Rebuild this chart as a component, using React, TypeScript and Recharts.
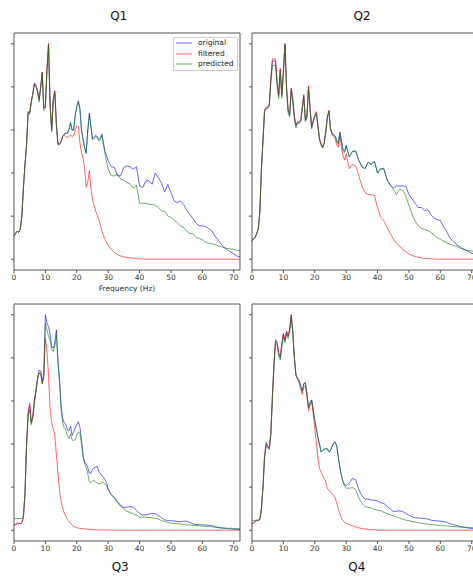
import { Legend, Line, LineChart, ReferenceArea, XAxis, YAxis } from "recharts";

// frequency grid: 0.5 Hz steps up to 30 Hz, then 1 Hz steps
const freqHz = [
  0, 0.5, 1, 1.5, 2, 2.5, 3, 3.5, 4, 4.5, 5, 5.5, 6, 6.5, 7, 7.5, 8, 8.5, 9, 9.5,
  10, 10.5, 11, 11.5, 12, 12.5, 13, 13.5, 14, 14.5, 15, 15.5, 16, 16.5, 17, 17.5,
  18, 18.5, 19, 19.5, 20, 20.5, 21, 21.5, 22, 22.5, 23, 23.5, 24, 24.5, 25, 25.5,
  26, 26.5, 27, 27.5, 28, 28.5, 29, 29.5, 30,
  31, 32, 33, 34, 35, 36, 37, 38, 39, 40, 41, 42, 43, 44, 45, 46, 47, 48, 49, 50,
  51, 52, 53, 54, 55, 56, 57, 58, 59, 60, 61, 62, 63, 64, 65, 66, 67, 68, 69, 70,
  71, 72,
];

const xTicks = [0, 10, 20, 30, 40, 50, 60, 70];
const yTicks = [0, 0.2, 0.4, 0.6, 0.8, 1];
const seriesNames = ["original", "filtered", "predicted"];

const q1Original = [
  0.108, 0.12, 0.13, 0.125, 0.14, 0.2, 0.33, 0.44, 0.53, 0.684,
  0.678, 0.73, 0.77, 0.816, 0.805, 0.78, 0.74, 0.8, 0.867, 0.7,
  0.71, 0.88, 1.0, 0.72, 0.6, 0.74, 0.78, 0.63, 0.534, 0.534,
  0.545, 0.57, 0.58, 0.585, 0.585, 0.6, 0.635, 0.6, 0.6, 0.67,
  0.71, 0.735, 0.7, 0.6, 0.56, 0.52, 0.495, 0.6, 0.678, 0.62,
  0.56, 0.565, 0.575, 0.57, 0.555, 0.56, 0.58, 0.54, 0.5, 0.48,
  0.457,
  0.43, 0.426, 0.387, 0.387, 0.426, 0.433, 0.43, 0.418, 0.43, 0.34,
  0.333, 0.364, 0.364, 0.348, 0.4, 0.379, 0.353, 0.313, 0.348, 0.31,
  0.271, 0.263, 0.271, 0.255, 0.229, 0.209, 0.189, 0.167, 0.155, 0.155,
  0.152, 0.142, 0.132, 0.108, 0.09, 0.07, 0.054, 0.043, 0.034, 0.025,
  0.015, 0.01,
];
const q1Filtered = [
  0.108, 0.12, 0.13, 0.125, 0.14, 0.2, 0.33, 0.44, 0.53, 0.686,
  0.68, 0.732, 0.772, 0.818, 0.807, 0.782, 0.742, 0.802, 0.869, 0.702,
  0.712, 0.882, 1.0, 0.722, 0.602, 0.742, 0.782, 0.632, 0.536, 0.536,
  0.545, 0.57, 0.576, 0.57, 0.565, 0.57, 0.576, 0.57, 0.573, 0.6,
  0.62, 0.615, 0.54, 0.495, 0.47, 0.42, 0.335, 0.36, 0.41, 0.33,
  0.28, 0.25, 0.225, 0.205, 0.185, 0.16, 0.132, 0.11, 0.093, 0.078,
  0.065,
  0.046, 0.031, 0.022, 0.015, 0.011, 0.008, 0.006, 0.005, 0.003, 0.002,
  0.001, 0, 0, 0, 0, 0, 0, 0, 0, 0,
  0, 0, 0, 0, 0, 0, 0, 0, 0, 0,
  0, 0, 0, 0, 0, 0, 0, 0, 0, 0,
  0, 0,
];
const q1Predicted = [
  0.108, 0.12, 0.13, 0.125, 0.14, 0.2, 0.33, 0.44, 0.525, 0.678,
  0.672, 0.725, 0.765, 0.81, 0.8, 0.775, 0.73, 0.795, 0.86, 0.69,
  0.7, 0.875, 0.99, 0.71, 0.59, 0.73, 0.77, 0.62, 0.53, 0.532,
  0.545, 0.57, 0.58, 0.585, 0.585, 0.6, 0.632, 0.6, 0.598, 0.665,
  0.705, 0.73, 0.695, 0.6, 0.555, 0.515, 0.49, 0.595, 0.672, 0.615,
  0.555, 0.56, 0.57, 0.565, 0.55, 0.555, 0.575, 0.53, 0.49, 0.45,
  0.42,
  0.387, 0.387, 0.395, 0.372, 0.368, 0.355, 0.35, 0.33, 0.345, 0.26,
  0.26, 0.26, 0.255, 0.255, 0.25, 0.24, 0.225, 0.222, 0.2, 0.195,
  0.18, 0.17, 0.155, 0.148, 0.13, 0.12, 0.118, 0.1, 0.097, 0.09,
  0.08, 0.075, 0.072, 0.068, 0.062, 0.058, 0.053, 0.05, 0.048, 0.045,
  0.042, 0.04,
];

const q2Original = [
  0.085, 0.095, 0.1, 0.12, 0.14, 0.22, 0.42, 0.55, 0.69, 0.7,
  0.705, 0.715, 0.83, 0.92, 0.92, 0.92, 0.82, 0.76, 0.88, 0.76,
  0.87, 1.0, 0.8, 0.69, 0.67, 0.79, 0.74, 0.66, 0.62, 0.635,
  0.635, 0.64, 0.7, 0.76, 0.645, 0.66, 0.8, 0.7, 0.61, 0.64,
  0.665, 0.68, 0.62, 0.557, 0.535, 0.52, 0.54, 0.59, 0.66, 0.69,
  0.61, 0.585, 0.58, 0.573, 0.55, 0.54, 0.59, 0.55, 0.51, 0.5,
  0.53,
  0.475, 0.5, 0.503, 0.46, 0.43, 0.42, 0.45, 0.44, 0.455, 0.4,
  0.42, 0.42, 0.37, 0.345, 0.33, 0.34, 0.34, 0.34, 0.34, 0.3,
  0.28, 0.26, 0.24, 0.24, 0.226, 0.23, 0.205, 0.19, 0.184, 0.18,
  0.15, 0.13, 0.1, 0.085, 0.07, 0.06, 0.05, 0.043, 0.035, 0.028,
  0.022, 0.018,
];
const q2Filtered = [
  0.085, 0.095, 0.1, 0.12, 0.14, 0.22, 0.42, 0.555, 0.695, 0.705,
  0.71, 0.72, 0.84, 0.93, 0.93, 0.93, 0.825, 0.765, 0.885, 0.765,
  0.875, 1.0, 0.805, 0.695, 0.675, 0.795, 0.745, 0.665, 0.625, 0.64,
  0.64, 0.645, 0.705, 0.765, 0.65, 0.665, 0.805, 0.705, 0.615, 0.645,
  0.67, 0.685, 0.625, 0.56, 0.538, 0.522, 0.542, 0.59, 0.66, 0.69,
  0.605, 0.58, 0.57, 0.56, 0.53, 0.52, 0.57, 0.52, 0.48, 0.46,
  0.49,
  0.42, 0.44, 0.433, 0.39, 0.34, 0.31, 0.3, 0.3, 0.295, 0.24,
  0.195, 0.178, 0.15, 0.12, 0.095, 0.075, 0.06, 0.045, 0.035, 0.025,
  0.018, 0.012, 0.009, 0.006, 0.004, 0.003, 0.002, 0.001, 0, 0,
  0, 0, 0, 0, 0, 0, 0, 0, 0, 0,
  0, 0,
];
const q2Predicted = [
  0.085, 0.095, 0.1, 0.12, 0.14, 0.22, 0.42, 0.545, 0.685, 0.695,
  0.7, 0.71, 0.82, 0.9, 0.9, 0.9, 0.8, 0.745, 0.87, 0.75,
  0.86, 0.99, 0.79, 0.68, 0.66, 0.78, 0.73, 0.65, 0.61, 0.63,
  0.63, 0.635, 0.695, 0.75, 0.64, 0.655, 0.79, 0.695, 0.605, 0.635,
  0.66, 0.675, 0.615, 0.553, 0.53, 0.515, 0.535, 0.585, 0.655, 0.685,
  0.605, 0.58, 0.575, 0.57, 0.545, 0.535, 0.585, 0.545, 0.505, 0.495,
  0.525,
  0.475, 0.5, 0.503, 0.46, 0.43, 0.42, 0.45, 0.44, 0.455, 0.4,
  0.42, 0.42, 0.37, 0.345, 0.325, 0.3, 0.325, 0.32, 0.295, 0.25,
  0.21, 0.175, 0.155, 0.143, 0.137, 0.133, 0.126, 0.113, 0.1, 0.093,
  0.084, 0.077, 0.07, 0.065, 0.06, 0.054, 0.048, 0.043, 0.04, 0.038,
  0.036, 0.035,
];

const q3Original = [
  0.023, 0.028, 0.034, 0.031, 0.031, 0.035, 0.06, 0.17, 0.4, 0.54,
  0.58, 0.5, 0.53, 0.604, 0.65, 0.71, 0.743, 0.74, 0.69, 0.73,
  1.0, 0.96, 0.945, 0.91, 0.855, 0.845, 0.87, 0.93, 0.79, 0.7,
  0.58, 0.52, 0.5, 0.49, 0.465, 0.46, 0.483, 0.44, 0.455, 0.475,
  0.49, 0.503, 0.48, 0.42, 0.35, 0.315, 0.31, 0.29, 0.265, 0.265,
  0.282, 0.29, 0.293, 0.297, 0.275, 0.262, 0.252, 0.247, 0.235, 0.222,
  0.19,
  0.165, 0.152, 0.133, 0.115, 0.105, 0.107, 0.11, 0.108, 0.092, 0.078,
  0.07, 0.072, 0.075, 0.077, 0.077, 0.068, 0.058, 0.048, 0.045, 0.044,
  0.043, 0.041, 0.04, 0.042, 0.042, 0.036, 0.03, 0.026, 0.025, 0.025,
  0.024, 0.023, 0.021, 0.017, 0.013, 0.011, 0.009, 0.008, 0.006, 0.005,
  0.004, 0.003,
];
const q3Filtered = [
  0.023, 0.025, 0.03, 0.031, 0.031, 0.035, 0.06, 0.17, 0.4, 0.55,
  0.59, 0.5, 0.53, 0.6, 0.65, 0.7, 0.73, 0.73, 0.68, 0.72,
  0.89, 0.83, 0.72, 0.56, 0.5, 0.47, 0.44, 0.35, 0.27, 0.186,
  0.135, 0.105, 0.08, 0.065, 0.05, 0.04, 0.032, 0.025, 0.019, 0.015,
  0.012, 0.01, 0.009, 0.008, 0.007, 0.006, 0.005, 0.005, 0.004, 0.004,
  0.003, 0.003, 0.002, 0.002, 0.002, 0.001, 0.001, 0.001, 0.001, 0.001,
  0.001,
  0, 0, 0, 0, 0, 0, 0, 0, 0, 0,
  0, 0, 0, 0, 0, 0, 0, 0, 0, 0,
  0, 0, 0, 0, 0, 0, 0, 0, 0, 0,
  0, 0, 0, 0, 0, 0, 0, 0, 0, 0,
  0, 0,
];
const q3Predicted = [
  0.054, 0.054, 0.054, 0.054, 0.054, 0.054, 0.07, 0.17, 0.39, 0.53,
  0.56, 0.49, 0.52, 0.59, 0.64, 0.7, 0.73, 0.725, 0.68, 0.715,
  0.96, 0.93, 0.9, 0.88, 0.84, 0.83, 0.855, 0.91, 0.78, 0.69,
  0.56, 0.5, 0.475, 0.465, 0.435, 0.425, 0.445, 0.42, 0.417, 0.42,
  0.44, 0.457, 0.45, 0.4, 0.34, 0.31, 0.29, 0.265, 0.225, 0.22,
  0.228, 0.23, 0.225, 0.218, 0.215, 0.216, 0.222, 0.224, 0.215, 0.208,
  0.19,
  0.165, 0.148, 0.128, 0.11, 0.098, 0.088, 0.082, 0.076, 0.07, 0.062,
  0.061, 0.06, 0.059, 0.058, 0.055, 0.052, 0.045, 0.04, 0.036, 0.033,
  0.031, 0.03, 0.029, 0.027, 0.025, 0.024, 0.023, 0.022, 0.021, 0.019,
  0.018, 0.017, 0.016, 0.014, 0.012, 0.011, 0.01, 0.009, 0.009, 0.008,
  0.008, 0.008,
];

const q4Original = [
  0.031, 0.035, 0.042, 0.045, 0.045, 0.05, 0.1, 0.2, 0.34, 0.4,
  0.387, 0.38, 0.45, 0.62, 0.77, 0.88, 0.87, 0.82, 0.8, 0.86,
  0.91, 0.88, 0.92, 0.9, 0.93, 1.0, 0.92, 0.8, 0.72, 0.706,
  0.695, 0.67, 0.645, 0.68, 0.685, 0.635, 0.57, 0.59, 0.605, 0.56,
  0.51, 0.47, 0.43, 0.4, 0.364, 0.37, 0.376, 0.378, 0.378, 0.365,
  0.37, 0.39, 0.405, 0.41, 0.39, 0.34, 0.29, 0.255, 0.225, 0.213,
  0.205,
  0.22, 0.24, 0.235, 0.19, 0.16, 0.145, 0.145, 0.14, 0.14, 0.135,
  0.128, 0.124, 0.112, 0.1, 0.087, 0.088, 0.09, 0.086, 0.078, 0.07,
  0.062, 0.058, 0.057, 0.056, 0.054, 0.052, 0.047, 0.045, 0.043, 0.042,
  0.04, 0.037, 0.031, 0.026, 0.023, 0.019, 0.016, 0.013, 0.01, 0.008,
  0.006, 0.005,
];
const q4Filtered = [
  0.028, 0.033, 0.04, 0.044, 0.045, 0.05, 0.1, 0.2, 0.35, 0.41,
  0.39, 0.385, 0.45, 0.62, 0.775, 0.885, 0.875, 0.825, 0.81, 0.87,
  0.915, 0.885, 0.925, 0.905, 0.935, 1.0, 0.92, 0.8, 0.72, 0.7,
  0.685, 0.655, 0.63, 0.665, 0.67, 0.62, 0.555, 0.58, 0.6, 0.54,
  0.47, 0.41, 0.34, 0.286, 0.27, 0.255, 0.24, 0.225, 0.195, 0.185,
  0.18, 0.17, 0.16, 0.15, 0.125, 0.1, 0.075, 0.055, 0.045, 0.038,
  0.033,
  0.027, 0.021, 0.016, 0.011, 0.008, 0.005, 0.004, 0.003, 0.002, 0.001,
  0, 0, 0, 0, 0, 0, 0, 0, 0, 0,
  0, 0, 0, 0, 0, 0, 0, 0, 0, 0,
  0, 0, 0, 0, 0, 0, 0, 0, 0, 0,
  0, 0,
];
const q4Predicted = [
  0.045, 0.045, 0.046, 0.047, 0.048, 0.05, 0.1, 0.2, 0.33, 0.39,
  0.38, 0.375, 0.44, 0.61, 0.76, 0.87, 0.86, 0.81, 0.79, 0.85,
  0.9, 0.87, 0.91, 0.89, 0.92, 0.99, 0.91, 0.8, 0.72, 0.706,
  0.695, 0.67, 0.645, 0.68, 0.685, 0.635, 0.57, 0.59, 0.605, 0.56,
  0.51, 0.47, 0.43, 0.4, 0.364, 0.37, 0.376, 0.378, 0.378, 0.365,
  0.37, 0.39, 0.405, 0.41, 0.39, 0.34, 0.29, 0.255, 0.222, 0.205,
  0.195,
  0.195, 0.198, 0.19, 0.15, 0.125, 0.11, 0.107, 0.104, 0.097, 0.093,
  0.09, 0.083, 0.077, 0.072, 0.067, 0.062, 0.056, 0.052, 0.047, 0.044,
  0.04, 0.038, 0.035, 0.032, 0.03, 0.028, 0.026, 0.025, 0.023, 0.022,
  0.021, 0.02, 0.018, 0.017, 0.016, 0.015, 0.014, 0.013, 0.012, 0.012,
  0.011, 0.011,
];

const FONT = "'DejaVu Sans', sans-serif";
const FRAME = "#555";
const TEXT = "#333";

function LegendBox({ payload }: { payload?: Array<{ value: string; color: string }> }) {
  // keep the plotting order, not recharts' alphabetical one
  const items = [...(payload ?? [])].sort(
    (a, b) => seriesNames.indexOf(a.value) - seriesNames.indexOf(b.value),
  );
  return (
    <div
      style={{
        border: "1px solid #ccc",
        borderRadius: 2,
        background: "rgba(255,255,255,0.8)",
        padding: "0.5px 3px 0.5px 2.4px",
      }}
    >
      {items.map((item) => (
        <div key={item.value} style={{ display: "flex", alignItems: "center", height: 10.5 }}>
          <svg width={16} height={2} style={{ display: "block" }}>
            <line x1={0} y1={1} x2={16} y2={1} stroke={item.color} strokeOpacity={0.6} strokeWidth={1} />
          </svg>
          <span style={{ marginLeft: 5.6, fontSize: 7.5, color: "#222", lineHeight: "10.5px" }}>
            {item.value}
          </span>
        </div>
      ))}
    </div>
  );
}

interface PanelProps {
  left: number;
  top: number;
  original: number[];
  filtered: number[];
  predicted: number[];
  xLabel?: boolean;
  legend?: boolean;
}

function Panel({ left, top, original, filtered, predicted, xLabel, legend }: PanelProps) {
  const rows = freqHz.map((f, i) => ({
    f,
    original: original[i],
    filtered: filtered[i],
    predicted: predicted[i],
  }));

  return (
    <div style={{ position: "absolute", left, top }}>
      <LineChart width={241} height={300} data={rows} margin={{ top: 33, right: 1, bottom: 0, left: 0 }}>
        <XAxis
          dataKey="f"
          type="number"
          domain={[0, 72]}
          ticks={xTicks}
          interval={0}
          axisLine={false}
          tickLine={{ stroke: FRAME }}
          tickSize={3}
          tickMargin={2}
          height={30}
          tick={{ fontSize: 7.5, fill: TEXT }}
          label={
            xLabel
              ? { value: "Frequency (Hz)", position: "insideBottom", offset: 9, fontSize: 7.5, fill: TEXT }
              : undefined
          }
        />
        <YAxis
          type="number"
          domain={[-0.05, 1.05]}
          ticks={yTicks}
          allowDataOverflow
          axisLine={false}
          tickLine={{ stroke: FRAME }}
          tickSize={3}
          width={14}
          tickFormatter={() => ""}
        />
        <ReferenceArea x1={0} x2={72} y1={-0.05} y2={1.05} fill="none" stroke={FRAME} strokeWidth={1} />
        <Line dataKey="original" name="original" stroke="#0000ff" strokeOpacity={0.6} strokeWidth={1} dot={false} isAnimationActive={false} />
        <Line dataKey="filtered" name="filtered" stroke="#ff0000" strokeOpacity={0.6} strokeWidth={1} dot={false} isAnimationActive={false} />
        <Line dataKey="predicted" name="predicted" stroke="#008000" strokeOpacity={0.6} strokeWidth={1} dot={false} isAnimationActive={false} />
        {legend && (
          <Legend
            layout="vertical"
            align="center"
            verticalAlign="middle"
            wrapperStyle={{ left: 173, top: 36.5, right: "auto", bottom: "auto", width: "auto", height: "auto" }}
            content={(props: any) => <LegendBox payload={props.payload} />}
          />
        )}
      </LineChart>
    </div>
  );
}

function Title({ text, cx, top }: { text: string; cx: number; top: number }) {
  return (
    <div
      style={{
        position: "absolute",
        left: cx - 30,
        top,
        width: 60,
        textAlign: "center",
        fontSize: 12,
        lineHeight: "12px",
        color: "#111",
      }}
    >
      {text}
    </div>
  );
}

export default function App() {
  return (
    <div
      style={{
        position: "fixed",
        left: 0,
        top: 0,
        width: 473,
        height: 581,
        overflow: "hidden",
        background: "#fff",
        fontFamily: FONT,
      }}
    >
      <Panel left={0} top={0} original={q1Original} filtered={q1Filtered} predicted={q1Predicted} xLabel legend />
      <Panel left={238} top={0} original={q2Original} filtered={q2Filtered} predicted={q2Predicted} />
      <Panel left={0} top={271} original={q3Original} filtered={q3Filtered} predicted={q3Predicted} />
      <Panel left={238} top={271} original={q4Original} filtered={q4Filtered} predicted={q4Predicted} />
      <Title text="Q1" cx={118.7} top={10.3} />
      <Title text="Q2" cx={362} top={10.3} />
      <Title text="Q3" cx={120.2} top={560.5} />
      <Title text="Q4" cx={356.8} top={560.5} />
    </div>
  );
}
